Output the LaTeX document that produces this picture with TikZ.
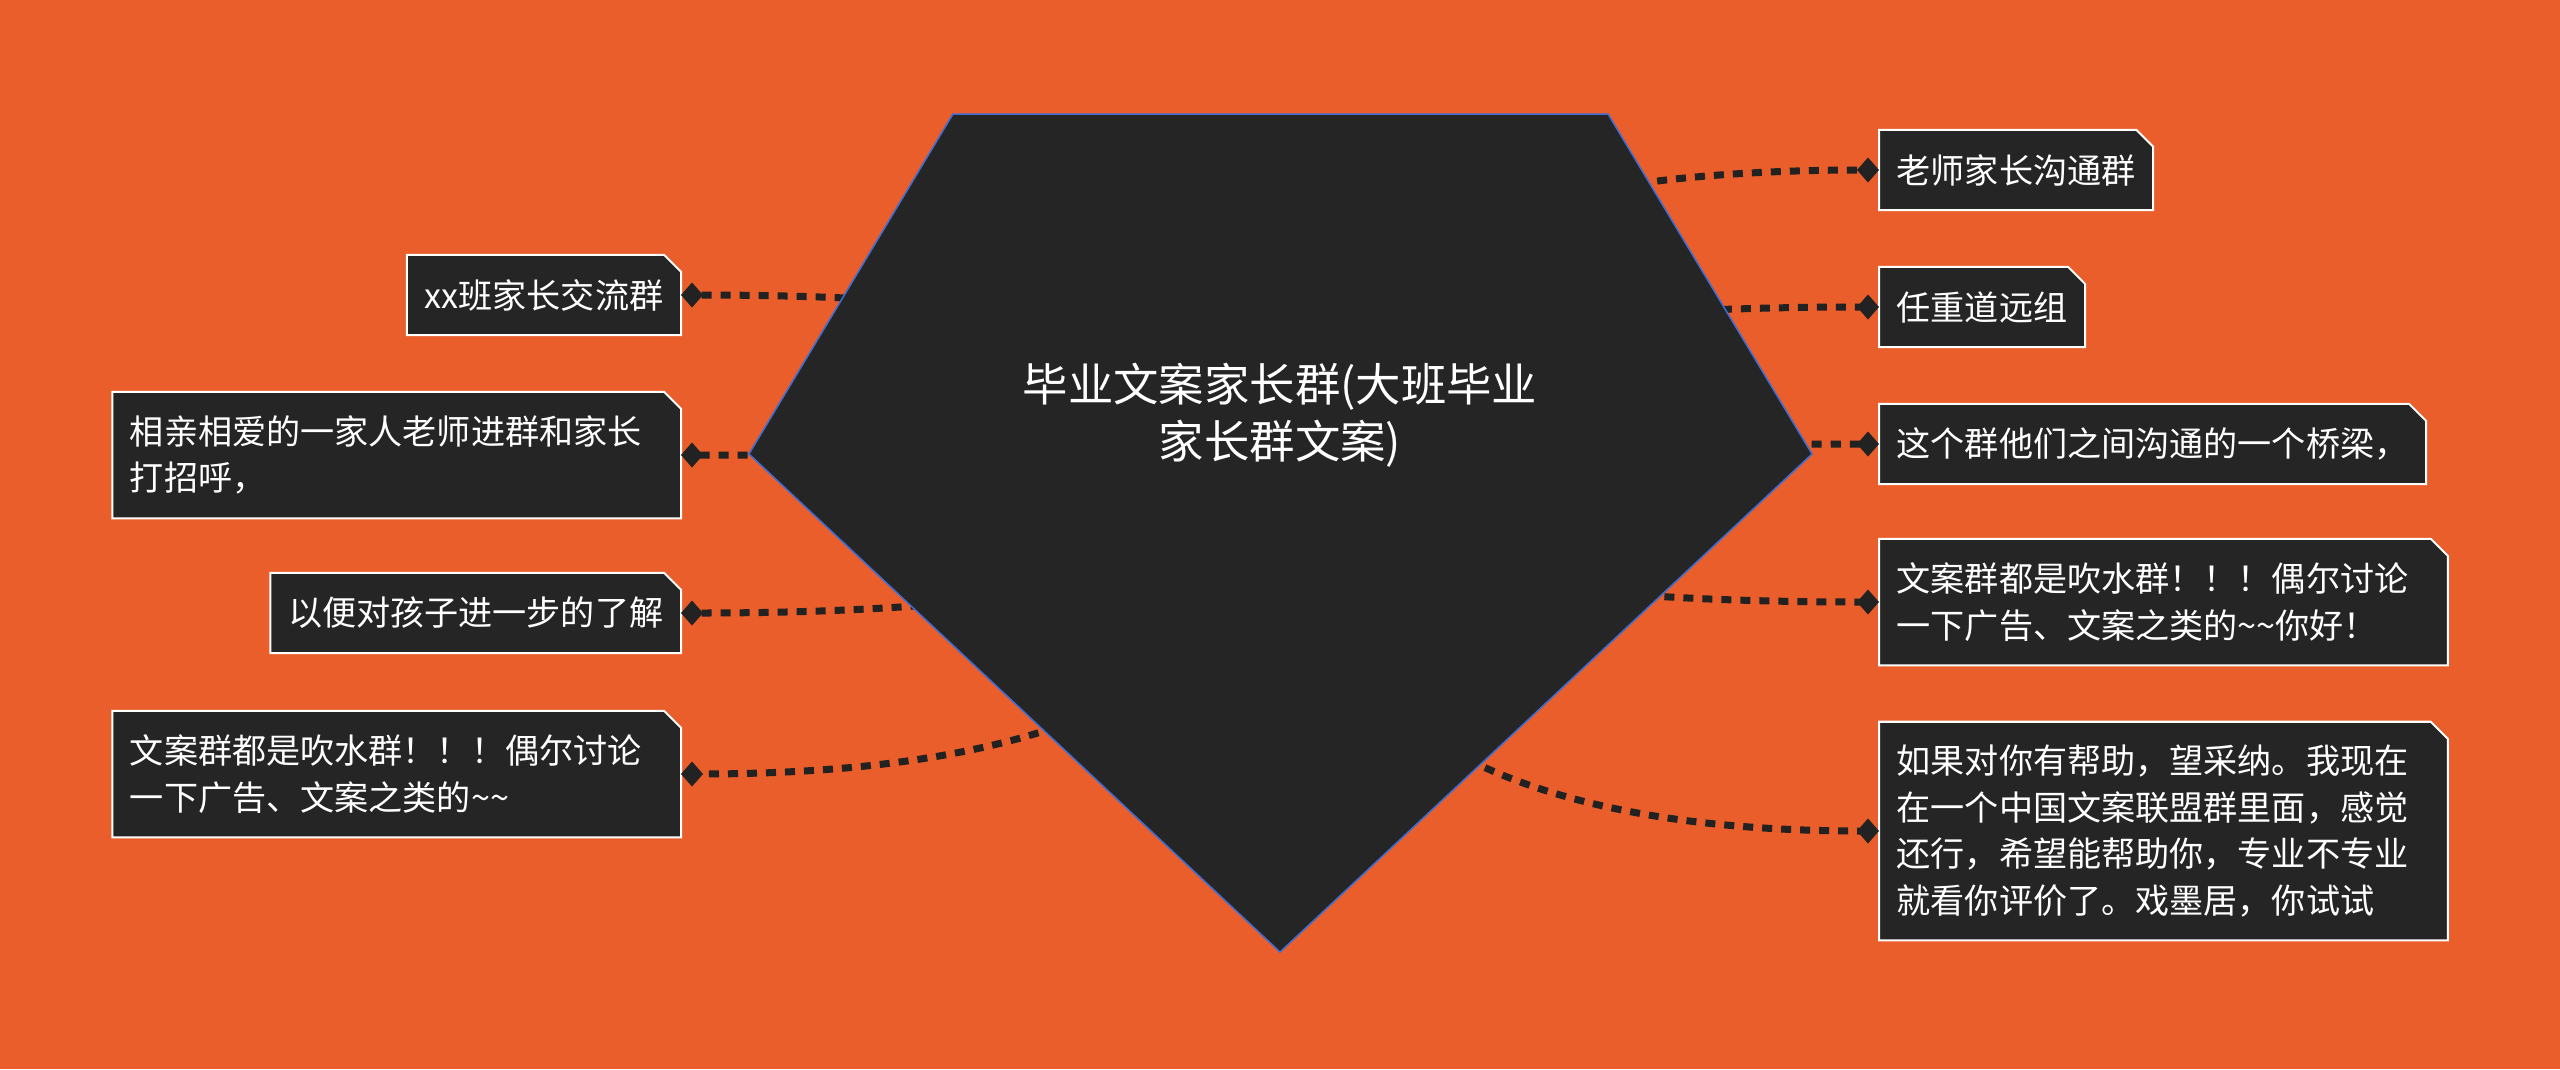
\documentclass[tikz,border=0pt]{standalone}
\usepackage{fontspec}
\usepackage{tikz}
\usetikzlibrary{arrows.meta}
\usetikzlibrary{calc}
\newfontfamily\cjk{Noto Sans CJK SC}

\definecolor{mapbg}{RGB}{233,94,42}
\definecolor{mapdark}{RGB}{37,37,37}
\definecolor{maplink}{RGB}{34,34,34}
\definecolor{mapblue}{RGB}{58,110,214}

\pgfdeclarelayer{back}
\pgfdeclarelayer{lines}
\pgfsetlayers{back,lines,main}

\tikzset{
  leaf/.style={text=white, font=\cjk\fontsize{9.7pt}{13.2pt}\selectfont, align=left,
    inner xsep=0.17cm, inner ysep=0.1cm, minimum height=0.79cm},
  leafwide/.style={leaf, text width=5.33cm, minimum height=1.25cm},
  leafbox/.style={fill=mapdark, draw=white, line width=0.02cm},
  hubshape/.style={fill=mapdark, draw=mapblue, line width=0.015cm},
  link/.style={maplink, line width=0.07cm, dash pattern=on 0.1cm off 0.09cm,
    -{Diamond[length=0.22cm, width=0.25cm]}},
}

\begin{document}
\begin{tikzpicture}[x=0.01cm, y=-0.01cm]
\useasboundingbox (0,0) rectangle (2560,1069);

\begin{pgfonlayer}{back}
\fill[mapbg] (0,0) rectangle (2560,1069);
\end{pgfonlayer}

% centre
\filldraw[hubshape] (953,114) -- (1608,114) -- (1812,454) -- (1280,952) -- (749,454) -- cycle;
\coordinate (hub) at (1280,454);
\node[text=white, font=\cjk\fontsize{12.9pt}{16.2pt}\selectfont, align=center] (root) at (1280,415)
  {毕业文案家长群(大班毕业\\家长群文案)};

% left
\node[leaf, anchor=east] (l1) at (681,295) {xx班家长交流群};
\node[leafwide, anchor=east] (l2) at (681,455) {相亲相爱的一家人老师进群和家长\\打招呼，};
\node[leaf, anchor=east] (l3) at (681,613) {以便对孩子进一步的了解};
\node[leafwide, anchor=east] (l4) at (681,774) {文案群都是吹水群！！！偶尔讨论\\一下广告、文案之类的\textasciitilde\textasciitilde};

% right
\node[leaf, anchor=west] (r1) at (1879,170) {老师家长沟通群};
\node[leaf, anchor=west] (r2) at (1879,307) {任重道远组};
\node[leaf, anchor=west] (r3) at (1879,444) {这个群他们之间沟通的一个桥梁，};
\node[leafwide, anchor=west] (r4) at (1879,602) {文案群都是吹水群！！！偶尔讨论\\一下广告、文案之类的\textasciitilde\textasciitilde 你好！};
\node[leafwide, anchor=west, minimum height=2.17cm] (r5) at (1879,831)
  {如果对你有帮助，望采纳。我现在\\在一个中国文案联盟群里面，感觉\\还行，希望能帮助你，专业不专业\\就看你评价了。戏墨居，你试试};

\begin{pgfonlayer}{lines}
\foreach \n in {l1,l2,l3,l4,r1,r2,r3,r4,r5}
  \filldraw[leafbox] (\n.north west) -- ([xshift=-0.17cm]\n.north east) -- ([yshift=-0.17cm]\n.north east)
    -- (\n.south east) -- (\n.south west) -- cycle;

\foreach \n/\s in {l1/east,l2/east,l3/east,l4/east,r1/west,r2/west,r3/west,r4/west,r5/west}
  \draw[link] (hub) .. controls ($(hub)!2/3!(hub |- \n.\s)$) and ($(\n.\s)!2/3!(hub |- \n.\s)$) .. (\n.\s);
\end{pgfonlayer}

\end{tikzpicture}
\end{document}
